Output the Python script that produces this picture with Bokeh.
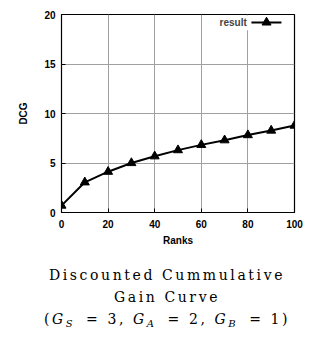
from bokeh.plotting import figure
from bokeh.models import Label, Div, BoxAnnotation, FixedTicker
from bokeh.layouts import column
from bokeh.embed import file_html
from bokeh.resources import INLINE

ranks = [0, 10, 20, 30, 40, 50, 60, 70, 80, 90, 100]
dcg = [0.7, 3.05, 4.12, 5.0, 5.68, 6.3, 6.83, 7.3, 7.82, 8.28, 8.78]
x_ticks = [0, 20, 40, 60, 80, 100]
y_ticks = [0, 5, 10, 15, 20]
series_name = "result"

p = figure(width=308, height=250, x_range=(0, 100), y_range=(0, 20),
           output_backend="svg", toolbar_location=None,
           min_border_left=61, min_border_right=14, min_border_top=14,
           min_border_bottom=38)
p.outline_line_color = "black"
p.outline_line_width = 1.2
p.background_fill_color = "white"

for ax in (p.xaxis[0], p.yaxis[0]):
    ax.major_label_text_font = "Liberation Sans"
    ax.major_label_text_font_style = "bold"
    ax.major_label_text_font_size = "10px"
    ax.major_label_text_color = "black"
    ax.axis_label_text_font = "Liberation Sans"
    ax.axis_label_text_font_style = "bold"
    ax.axis_label_text_font_size = "10px"
    ax.axis_label_text_color = "black"
    ax.axis_line_color = None
    ax.major_tick_in = 4
    ax.major_tick_out = 0
    ax.minor_tick_in = 0
    ax.minor_tick_out = 0
    ax.major_tick_line_color = "black"

p.xaxis.ticker = FixedTicker(ticks=x_ticks)
p.yaxis.ticker = FixedTicker(ticks=y_ticks)
p.xaxis.axis_label = "Ranks"
p.yaxis.axis_label = "DCG"
p.xaxis.major_label_standoff = 7
p.yaxis.major_label_standoff = 6
p.xaxis.axis_label_standoff = 4
p.yaxis.axis_label_standoff = 12

p.xgrid.ticker = FixedTicker(ticks=x_ticks)
p.ygrid.ticker = FixedTicker(ticks=y_ticks)
p.grid.grid_line_color = "#a0a0a0"
p.grid.grid_line_width = 1

p.line(ranks, dcg, line_color="black", line_width=2)
p.scatter(ranks, dcg, marker="triangle", size=9, fill_color="black", line_color="black")

# legend (gnuplot style: text then sample)
p.add_layout(BoxAnnotation(left=64, right=96, bottom=18.4, top=19.9,
                           fill_color="white", fill_alpha=1, line_color=None,
                           level="underlay"))
p.add_layout(Label(x=79.5, y=19.2, text=series_name, text_align="right",
                   text_baseline="middle", text_font="Liberation Sans",
                   text_font_style="bold", text_font_size="10px"))
p.segment(x0=[81.5], y0=[19.2], x1=[94.4], y1=[19.2], line_color="black", line_width=2)
p.scatter(x=[88], y=[19.2], marker="triangle", size=9, fill_color="black", line_color="black")

sub = ("<sub style='font-size:10px;letter-spacing:1px;line-height:0;"
       "vertical-align:-3px'><i>{}</i></sub>")
eq = "&nbsp;&thinsp;=&nbsp;"
caption = Div(text="Discounted Cummulative<br>Gain Curve<br>"
                   "(<i>G</i>" + sub.format("S") + eq + "3, "
                   "<i>G</i>" + sub.format("A") + eq + "2, "
                   "<i>G</i>" + sub.format("B") + eq + "1)",
              width=308,
              styles={"font-family": "DejaVu Serif", "font-size": "14px",
                      "text-align": "center", "line-height": "22px",
                      "margin-top": "14px", "padding-left": "16px",
                      "box-sizing": "border-box", "width": "308px",
                      "letter-spacing": "2.6px"})

layout = column(p, caption, spacing=0)
open("out.html", "w").write(file_html(layout, INLINE))
